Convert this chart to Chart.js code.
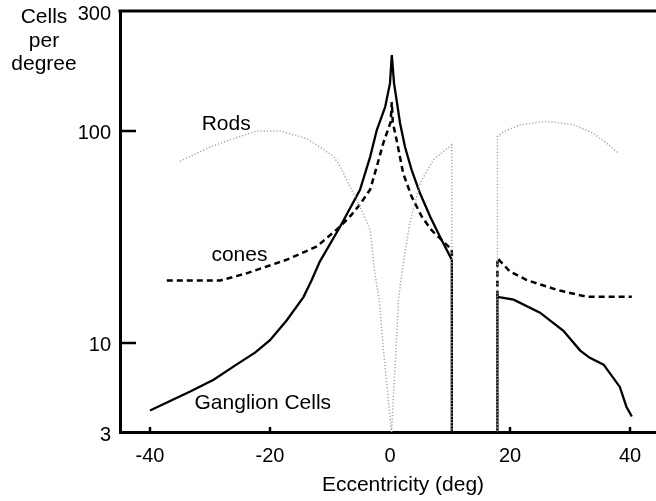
<!DOCTYPE html>
<html>
<head>
<meta charset="utf-8">
<script src="https://cdn.jsdelivr.net/npm/chart.js@4/dist/chart.umd.min.js"></script>
<style>
html,body{margin:0;padding:0;background:#fff;overflow:hidden}
#wrap{width:656px;height:501px;position:relative}
</style>
</head>
<body>
<div id="wrap"><canvas id="c" width="656" height="501"></canvas></div>
<script>
// ---- data (eccentricity in deg, cells per degree) ----
const ganglionX = [-40, -33.3, -29.4, -25.6, -22.5, -20, -17.2, -14.4, -13.05, -11.7, -8.3, -5, -3.3, -2.2, -0.8, 0, 0.3, 0.67, 1.67, 2.5, 3.6, 5, 6.7, 8.6, 10.3, 10.3, null, 17.9, 17.9, 20.6, 25, 28.9, 31.7, 33.3, 35.6, 38.3, 39.4, 40.3];
const ganglionY = [4.8, 5.9, 6.7, 7.9, 9.0, 10.3, 12.8, 16.5, 19.8, 24.2, 35.4, 52.7, 75.7, 101, 130, 168, 228, 168, 109, 84, 65.5, 50.8, 39.4, 30.6, 24.7, 3, null, 3, 16.5, 16.0, 13.9, 11.4, 9.2, 8.5, 7.9, 6.2, 5.0, 4.5];

const conesX = [-37.2, -28.3, -23.9, -17.2, -12.2, -8.3, -6.5, -5, -3.3, -2.2, -1.1, 0.1, 0.3, 0.45, 1.1, 2.2, 3.6, 5.3, 6.9, 8.6, 10.3, 10.3, null, 17.9, 17.9, 20, 22.8, 27.8, 32.8, 40.3];
const conesY = [19.7, 19.7, 21.3, 24.7, 28.5, 35.4, 40, 45, 53, 68, 88, 110, 137, 110, 90.7, 63, 49, 39.4, 34.1, 30.6, 27.5, 25.5, null, 16.5, 25.1, 21.7, 19.8, 17.8, 16.5, 16.5];

const rodsX = [-35, -30, -26.1, -22.2, -18.3, -13.9, -11.7, -9.4, -8.3, -7, -5, -3.3, -2.6, -1.8, -1.1, 0.25, 1.0, 1.4, 2.2, 3.3, 5, 7.2, 10.3, 10.3, null, 17.9, 17.9, 18.9, 21.7, 26.1, 30.6, 33.9, 36.1, 38.1];
const rodsY = [72, 84, 92, 100, 100, 92, 84, 75.7, 68, 57, 44, 34, 22, 16, 9.3, 3.8, 9.3, 16, 23.8, 36.7, 56.6, 73, 86, 3, null, 3, 94, 99, 107, 111, 107, 97.5, 87.5, 78.5];

// ---- axes / ticks ----
const xAxisMin = -45, xAxisMax = 44.33;
const yAxisMin = 3.8, yAxisMax = 368;
const xTickValues = [-40, -20, 0, 20, 40];
const xTickLabels = ['-40', '-20', '0', '20', '40'];
const xTickMarks = [-40, -20, 20, 40];
const yTickValues = [3.8, 10, 100, 368];
const yTickLabels = ['3', '10', '100', '300'];
const yTickMarks = [10, 100];

// ---- text labels ----
const seriesLabels = ['Rods', 'cones', 'Ganglion Cells'];
const xTitle = 'Eccentricity (deg)';
const yTitleLines = ['Cells', 'per', 'degree'];

// layout of text (kept apart from the data)
const FONT = '"Liberation Sans", Arial, Helvetica, sans-serif';
const seriesLabelAt = [{x: -27.3, y: 101}, {x: -25.1, y: 24.4}, {x: -21.2, y: 4.87}];
const yTitleAt = {x: 44, y: [23, 47, 70]};
const xTitleAt = {x: 403, y: 491};

const pts = (xs, ys) => xs.map((x, i) => (x === null ? {x: NaN, y: null} : {x: x, y: ys[i]}));

const decor = {
  id: 'decor',
  afterDraw(chart) {
    const {ctx, chartArea: a, scales: {x, y}} = chart;
    ctx.save();
    ctx.strokeStyle = '#000';
    ctx.lineCap = 'butt';
    // top frame line
    ctx.lineWidth = 3;
    ctx.beginPath();
    ctx.moveTo(a.left - 1.5, a.top);
    ctx.lineTo(chart.width, a.top);
    ctx.stroke();
    // inward tick marks
    ctx.lineWidth = 2.5;
    ctx.beginPath();
    yTickMarks.forEach(v => { const p = y.getPixelForValue(v); ctx.moveTo(a.left, p); ctx.lineTo(a.left + 16, p); });
    xTickMarks.forEach(v => { const p = x.getPixelForValue(v); ctx.moveTo(p, a.bottom); ctx.lineTo(p, a.bottom - 5); });
    ctx.stroke();
    // text
    ctx.fillStyle = '#000';
    ctx.textAlign = 'center';
    ctx.textBaseline = 'alphabetic';
    ctx.font = '21px ' + FONT;
    seriesLabels.forEach((t, i) => {
      ctx.fillText(t, x.getPixelForValue(seriesLabelAt[i].x), y.getPixelForValue(seriesLabelAt[i].y));
    });
    yTitleLines.forEach((t, i) => ctx.fillText(t, yTitleAt.x, yTitleAt.y[i]));
    ctx.fillText(xTitle, xTitleAt.x, xTitleAt.y);
    ctx.restore();
  }
};

new Chart(document.getElementById('c'), {
  type: 'line',
  data: {
    datasets: [
      {label: 'Rods', data: pts(rodsX, rodsY), borderColor: '#a6a6a6', borderWidth: 1.5, borderDash: [1.2, 2], pointRadius: 0, tension: 0, spanGaps: false},
      {label: 'cones', data: pts(conesX, conesY), borderColor: '#000', borderWidth: 2.5, borderDash: [6, 4], pointRadius: 0, tension: 0, spanGaps: false},
      {label: 'Ganglion Cells', data: pts(ganglionX, ganglionY), borderColor: '#000', borderWidth: 2.3, pointRadius: 0, tension: 0, spanGaps: false}
    ]
  },
  options: {
    responsive: false,
    animation: false,
    devicePixelRatio: 1,
    layout: {padding: {top: 11, right: 0, left: 0, bottom: 0}},
    plugins: {legend: {display: false}, tooltip: {enabled: false}, title: {display: false}},
    scales: {
      x: {
        type: 'linear', min: xAxisMin, max: xAxisMax,
        grid: {display: false, drawTicks: false},
        border: {display: true, color: '#000', width: 3},
        afterBuildTicks: s => { s.ticks = xTickValues.map(v => ({value: v})); },
        afterFit: s => { s.height = 69; s.paddingLeft = 0; s.paddingRight = 0; },
        ticks: {
          callback: v => xTickLabels[xTickValues.indexOf(v)],
          font: {family: FONT, size: 20}, color: '#000', padding: 12,
          maxRotation: 0, autoSkip: false
        }
      },
      y: {
        type: 'logarithmic', min: yAxisMin, max: yAxisMax,
        grid: {display: false, drawTicks: false},
        border: {display: true, color: '#000', width: 3},
        afterBuildTicks: s => { s.ticks = yTickValues.map(v => ({value: v})); },
        afterFit: s => { s.width = 120; s.paddingTop = 0; s.paddingBottom = 0; },
        ticks: {
          callback: v => yTickLabels[yTickValues.indexOf(v)],
          font: {family: FONT, size: 20}, color: '#000', padding: 9, labelOffset: 3,
          autoSkip: false
        }
      }
    }
  },
  plugins: [decor]
});
</script>
</body>
</html>
